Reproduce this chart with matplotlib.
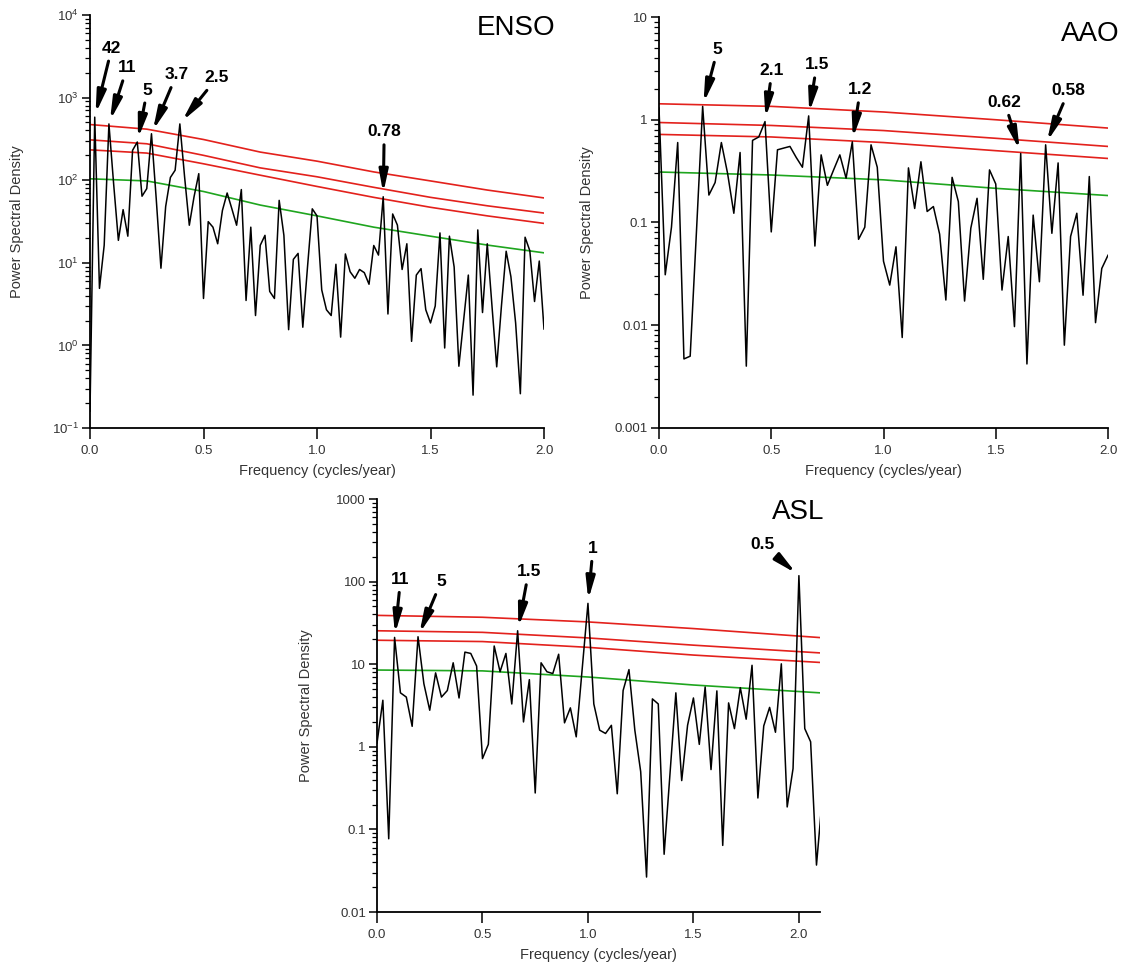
import matplotlib.pyplot as plt
import numpy as np
from matplotlib.ticker import LogLocator, NullFormatter, FixedLocator, FixedFormatter

plt.rcParams['font.family'] = ['Liberation Sans', 'DejaVu Sans']
plt.rcParams['mathtext.default'] = 'regular'

# ---------------- ENSO (frequency step 1/48 cycles/year) ----------------
enso_df = 1 / 48
enso_psd = [0.16, 580, 4.9, 16.3, 480, 90, 18.7, 44, 21, 230,
            290, 64, 79, 365, 60, 8.6, 48, 108, 132, 480,
            110, 28.5, 63, 120, 3.7, 31.5, 27, 17, 43, 70,
            45, 28.5, 77, 3.5, 27, 2.3, 16.3, 21.5, 4.5, 3.7,
            57, 21.5, 1.55, 11, 13, 1.66, 9, 45, 37, 4.7,
            2.7, 2.3, 9.6, 1.26, 12.8, 7.8, 6.5, 8.3, 7.6, 5.5,
            16.2, 12.4, 63, 2.4, 39, 28.6, 8.3, 17, 1.12, 7.1,
            8.5, 2.7, 1.87, 3.0, 23, 0.93, 21, 8.9, 0.56, 2.0,
            7.1, 0.25, 25, 2.5, 17, 3.0, 0.55, 3.0, 13.8, 6.8,
            1.87, 0.26, 20.4, 14, 3.4, 10.5, 1.58]
enso_ref_f = [0, 0.25, 0.5, 0.75, 1.0, 1.25, 1.5, 1.75, 2.0]
enso_red_a = [472, 415, 311, 219, 170, 126, 98, 76, 61]
enso_red_b = [308, 276, 200, 141, 110, 82, 62, 49, 40]
enso_red_c = [233, 213, 158, 115, 84, 62, 47, 37, 30]
enso_green = [104, 98, 73, 50, 37, 27, 21, 16.4, 13.2]
enso_yticks = [0.1, 1, 10, 100, 1000, 10000]
enso_ylabels = ['$10^{-1}$', '$10^{0}$', '$10^{1}$', '$10^{2}$', '$10^{3}$', '$10^{4}$']
# label, bin index, text offset from peak (px)
enso_peaks = [('42', 1, 17, -69), ('11', 4, 18, -56), ('5', 10, 10, -52),
              ('3.7', 13, 25, -59), ('2.5', 19, 37, -46), ('0.78', 62, 1, -65)]

# ---------------- AAO (frequency step 1/36) ----------------
aao_df = 1 / 36
aao_psd = [1.30, 0.031, 0.09, 0.60, 0.0047, 0.0050, 0.08, 1.35, 0.185, 0.245,
           0.60, 0.30, 0.123, 0.48, 0.004, 0.63, 0.68, 0.96, 0.081, 0.51,
           0.53, 0.55, 0.43, 0.345, 1.09, 0.059, 0.455, 0.23, 0.325, 0.455,
           0.27, 0.61, 0.0686, 0.09, 0.57, 0.345, 0.042, 0.0246, 0.058, 0.0076,
           0.34, 0.137, 0.39, 0.128, 0.143, 0.077, 0.0176, 0.275, 0.16, 0.0172,
           0.088, 0.172, 0.028, 0.325, 0.237, 0.022, 0.073, 0.0097, 0.47, 0.0042,
           0.118, 0.0265, 0.57, 0.0785, 0.38, 0.0064, 0.073, 0.123, 0.0196, 0.28,
           0.0106, 0.0357, 0.048]
aao_ref_f = [0, 0.5, 1.0, 1.5, 2.0]
aao_red_a = [1.43, 1.35, 1.19, 1.0, 0.83]
aao_red_b = [0.94, 0.88, 0.785, 0.66, 0.55]
aao_red_c = [0.72, 0.68, 0.60, 0.50, 0.42]
aao_green = [0.31, 0.29, 0.26, 0.215, 0.183]
aao_yticks = [0.001, 0.01, 0.1, 1, 10]
aao_ylabels = ['0.001', '0.01', '0.1', '1', '10']
aao_peaks = [('5', 7, 15, -57), ('2.1', 17, 7, -51), ('1.5', 24, 8, -51),
             ('1.2', 31, 8, -52), ('0.62', 58, -16, -51), ('0.58', 62, 23, -54)]

# ---------------- ASL (frequency step 1/36) ----------------
asl_df = 1 / 36
asl_psd = [1.11, 3.66, 0.077, 21.1, 4.5, 4.0, 1.77, 21.5, 5.8, 2.77,
           7.85, 4.0, 4.8, 10.4, 3.9, 14.0, 13.5, 9.5, 0.72, 1.07,
           16.6, 8.1, 13.5, 3.3, 25.4, 2.0, 6.5, 0.276, 10.4, 8.1,
           7.7, 13.2, 1.95, 2.96, 1.32, 8.5, 54.5, 3.3, 1.59, 1.45,
           1.82, 0.27, 4.8, 8.6, 1.59, 0.50, 0.0265, 3.8, 3.3, 0.05,
           0.47, 4.5, 0.39, 1.82, 3.9, 1.07, 5.3, 0.53, 4.75, 0.064,
           3.4, 1.66, 5.2, 2.16, 9.7, 0.24, 1.79, 3.0, 1.5, 10.1,
           0.187, 0.545, 118, 1.66, 1.15, 0.037, 0.246]
asl_ref_f = [0, 0.5, 1.0, 1.5, 2.1]
asl_red_a = [39, 37, 32.5, 27, 21]
asl_red_b = [25.4, 24.3, 20.8, 17, 13.7]
asl_red_c = [19.5, 18.8, 16, 12.9, 10.5]
asl_green = [8.5, 8.3, 7.0, 5.6, 4.5]
asl_yticks = [0.01, 0.1, 1, 10, 100, 1000]
asl_ylabels = ['0.01', '0.1', '1', '10', '100', '1000']
asl_peaks = [('11', 3, 6, -58), ('5', 7, 23, -55), ('1.5', 24, 11, -59),
             ('1', 36, 5, -55), ('0.5', 72, -36, -31)]

xticks = [0.0, 0.5, 1.0, 1.5, 2.0]
xticklabels = ['0.0', '0.5', '1.0', '1.5', '2.0']

W, H = 1123, 971
fig = plt.figure(figsize=(W / 100, H / 100), dpi=100)
txt_col = '#333333'


def panel(px_rect, df, psd, ref_f, reds, green, xmax, yticks, ylabels, peaks):
    x0, x1, y0, y1 = px_rect
    ax = fig.add_axes([x0 / W, 1 - y1 / H, (x1 - x0) / W, (y1 - y0) / H])
    freq = np.arange(len(psd)) * df
    for r in reds:
        ax.plot(ref_f, r, color='#e3211c', lw=1.2)
    ax.plot(ref_f, green, color='#1fa51f', lw=1.2)
    ax.plot(freq, psd, color='black', lw=1.1)
    ax.set_yscale('log')
    ax.set_xlim(0, xmax)
    ax.set_ylim(yticks[0], yticks[-1])
    ax.yaxis.set_major_locator(FixedLocator(yticks))
    ax.yaxis.set_major_formatter(FixedFormatter(ylabels))
    ax.yaxis.set_minor_locator(LogLocator(base=10, subs=np.arange(2, 10), numticks=20))
    ax.yaxis.set_minor_formatter(NullFormatter())
    ax.set_xticks(xticks)
    ax.set_xticklabels(xticklabels)
    for s in ['top', 'right']:
        ax.spines[s].set_visible(False)
    for s in ['left', 'bottom']:
        ax.spines[s].set_linewidth(1.3)
    ax.tick_params(axis='y', which='major', length=6, width=1.1, pad=2,
                   labelsize=9.5, labelcolor=txt_col)
    ax.tick_params(axis='y', which='minor', length=3.5, width=0.9)
    ax.tick_params(axis='x', which='major', length=8, width=1.1, pad=4,
                   labelsize=9.5, labelcolor=txt_col)
    ax.set_ylabel('Power Spectral Density', fontsize=10.5, color=txt_col)
    ax.set_xlabel('Frequency (cycles/year)', fontsize=10.5, color=txt_col)
    ax.yaxis.set_label_coords(-0.16, 0.5)
    ax.xaxis.set_label_coords(0.5, -0.105)
    ax.xaxis.label.set_va('center')
    ax.yaxis.label.set_va('center')
    for lab, k, dx, dy in peaks:
        ax.annotate(lab, xy=(freq[k], psd[k]), xytext=(dx * 0.72, -dy * 0.72),
                    textcoords='offset points', ha='center', va='center',
                    fontsize=12.5, fontweight='bold',
                    arrowprops=dict(arrowstyle='-|>,head_width=0.22,head_length=1.1',
                                    color='black', lw=2.2, shrinkA=2, shrinkB=2.5,
                                    mutation_scale=12))
    return ax


panel((90, 544, 15, 428), enso_df, enso_psd, enso_ref_f,
      [enso_red_a, enso_red_b, enso_red_c], enso_green, 2.0,
      enso_yticks, enso_ylabels, enso_peaks)
panel((659, 1108, 17, 428), aao_df, aao_psd, aao_ref_f,
      [aao_red_a, aao_red_b, aao_red_c], aao_green, 2.0,
      aao_yticks, aao_ylabels, aao_peaks)
panel((377, 820, 499, 912), asl_df, asl_psd, asl_ref_f,
      [asl_red_a, asl_red_b, asl_red_c], asl_green, 2.1,
      asl_yticks, asl_ylabels, asl_peaks)

fig.text(516 / W, 1 - 28 / H, 'ENSO', fontsize=20, ha='center', va='center')
fig.text(1090 / W, 1 - 34 / H, 'AAO', fontsize=20, ha='center', va='center')
fig.text(798 / W, 1 - 512 / H, 'ASL', fontsize=20, ha='center', va='center')

fig.savefig('out.png', dpi=100)
